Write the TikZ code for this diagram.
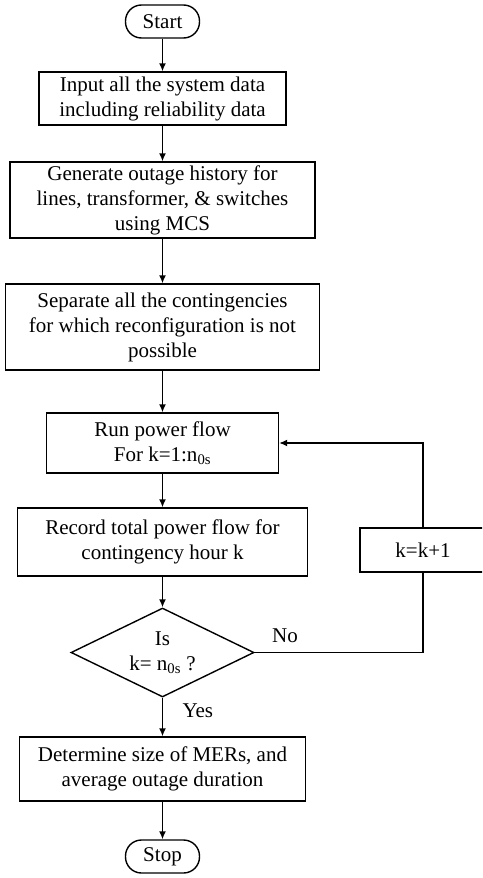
\documentclass[tikz,border=0pt]{standalone}
\usepackage{fontspec}
\setmainfont{Liberation Serif}
\usetikzlibrary{shapes.geometric,arrows.meta}
\tikzset{
  block/.style={draw, line width=1.4pt, rectangle, align=center, inner sep=2pt},
  term/.style={draw, line width=1.4pt, rectangle, rounded corners=16pt,
    minimum width=74pt, minimum height=33pt, inner sep=2pt},
  decision/.style={draw, line width=1.4pt, diamond, aspect=2, align=center,
    minimum width=183pt, minimum height=89pt, inner sep=0pt},
  line/.style={line width=1.4pt, -{Latex[length=8pt,width=7pt]}}
}
\begin{document}
\begin{tikzpicture}[x=1pt,y=-1pt,font=\fontsize{21}{25}\selectfont]
  \clip (0,0) rectangle (482,878);
  \node[term] (start) at (162.5,21.5) {Start};
  \node[block, minimum width=247pt, minimum height=53pt] (input) at (162.5,98.5)
    {Input all the system data\\including reliability data};
  \node[block, minimum width=305pt, minimum height=76pt] (gen) at (162.5,200)
    {Generate outage history for\\lines, transformer, \& switches\\using MCS};
  \node[block, minimum width=314pt, minimum height=86pt] (sep) at (162.5,327)
    {Separate all the contingencies\\for which reconfiguration is not\\possible};
  \node[block, minimum width=232pt, minimum height=60pt] (run) at (162.5,443)
    {Run power flow\\For k=1:n\textsubscript{0s}};
  \node[block, minimum width=290pt, minimum height=68pt] (rec) at (162.5,542)
    {Record total power flow for\\contingency hour k};
  \node[decision] (dec) at (162.5,652.5) {Is\\k= n\textsubscript{0s} ?};
  \node[block, minimum width=286pt, minimum height=64pt] (det) at (162.5,769)
    {Determine size of MERs, and\\average outage duration};
  \node[term] (stop) at (162.5,856.5) {Stop};
  \node[block, minimum width=126pt, minimum height=44pt] (kk) at (423,550) {k=k+1};
  % main flow
  \draw[line] (start) -- (input);
  \draw[line] (input) -- (gen);
  \draw[line] (gen) -- (sep);
  \draw[line] (sep) -- (run);
  \draw[line] (run) -- (rec);
  \draw[line] (rec) -- (dec);
  \draw[line] (dec) -- node[right=16pt, pos=0.33] {Yes} (det);
  \draw[line] (det) -- (stop);
  % loop back
  \draw[line width=1.4pt] (dec.east) -- node[above=6pt, pos=0.18] {No} (kk.south |- dec.east) -- (kk.south);
  \draw[line] (kk.north) |- (run.east);
\end{tikzpicture}
\end{document}
